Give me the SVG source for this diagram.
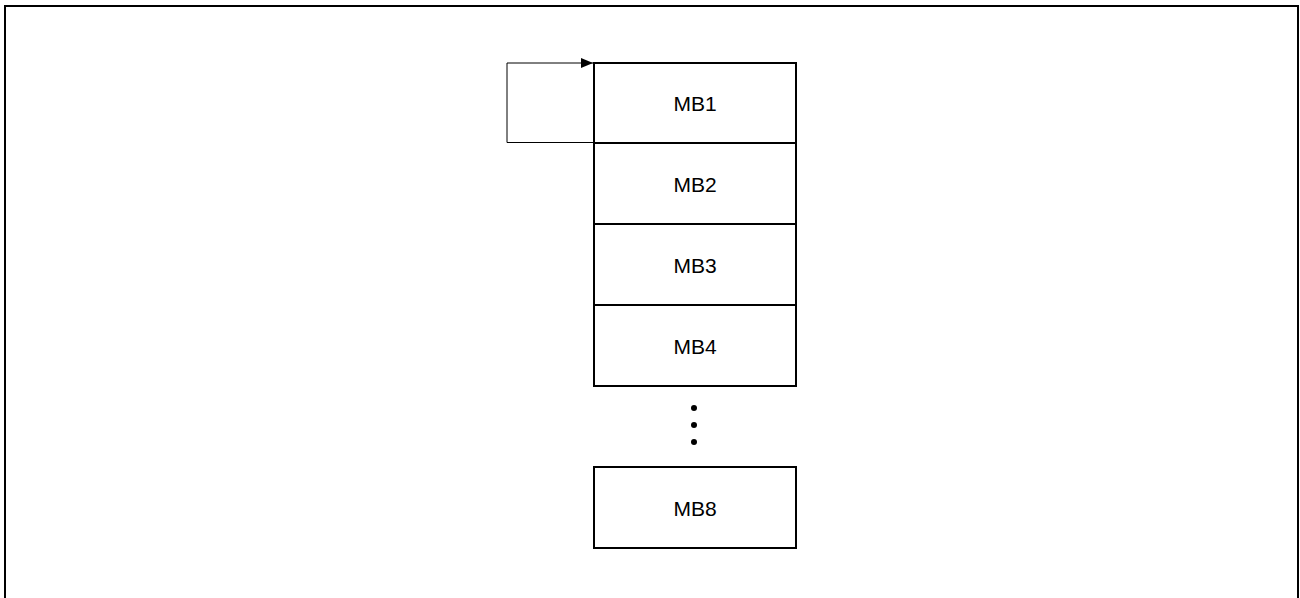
<svg xmlns="http://www.w3.org/2000/svg" width="1300" height="598" viewBox="0 0 1300 598">
<style>
.box{fill:#fff;stroke:#000;stroke-width:2}
.lbl{font-family:"Liberation Sans",Arial,sans-serif;font-size:21px;fill:#000;text-anchor:middle}
.conn{fill:none;stroke:#000;stroke-width:1}
</style>
<defs>
<marker id="arr" markerWidth="12" markerHeight="10" refX="12" refY="5" orient="auto" markerUnits="userSpaceOnUse">
<path d="M0,0 L12,5 L0,10 Z" fill="#000"/>
</marker>
</defs>
<rect x="0" y="0" width="1300" height="598" fill="#fff"/>
<path d="M5,605 L5,6 L1298,6 L1298,605" fill="none" stroke="#000" stroke-width="2"/>
<g id="mb1"><rect class="box" x="594" y="63" width="202" height="80"/><text class="lbl" x="695" y="111">MB1</text></g>
<g id="mb2"><rect class="box" x="594" y="143" width="202" height="81"/><text class="lbl" x="695" y="192">MB2</text></g>
<g id="mb3"><rect class="box" x="594" y="224" width="202" height="81"/><text class="lbl" x="695" y="273">MB3</text></g>
<g id="mb4"><rect class="box" x="594" y="305" width="202" height="81"/><text class="lbl" x="695" y="354">MB4</text></g>
<g id="dots"><circle cx="694" cy="408" r="3"/><circle cx="694" cy="425" r="3"/><circle cx="694" cy="442" r="3"/></g>
<g id="mb8"><rect class="box" x="594" y="467" width="202" height="81"/><text class="lbl" x="695" y="516">MB8</text></g>
<g id="connectors">
<path class="conn" d="M594,142.5 L507,142.5 L507,63 L593,63" marker-end="url(#arr)"/>
</g>
</svg>
